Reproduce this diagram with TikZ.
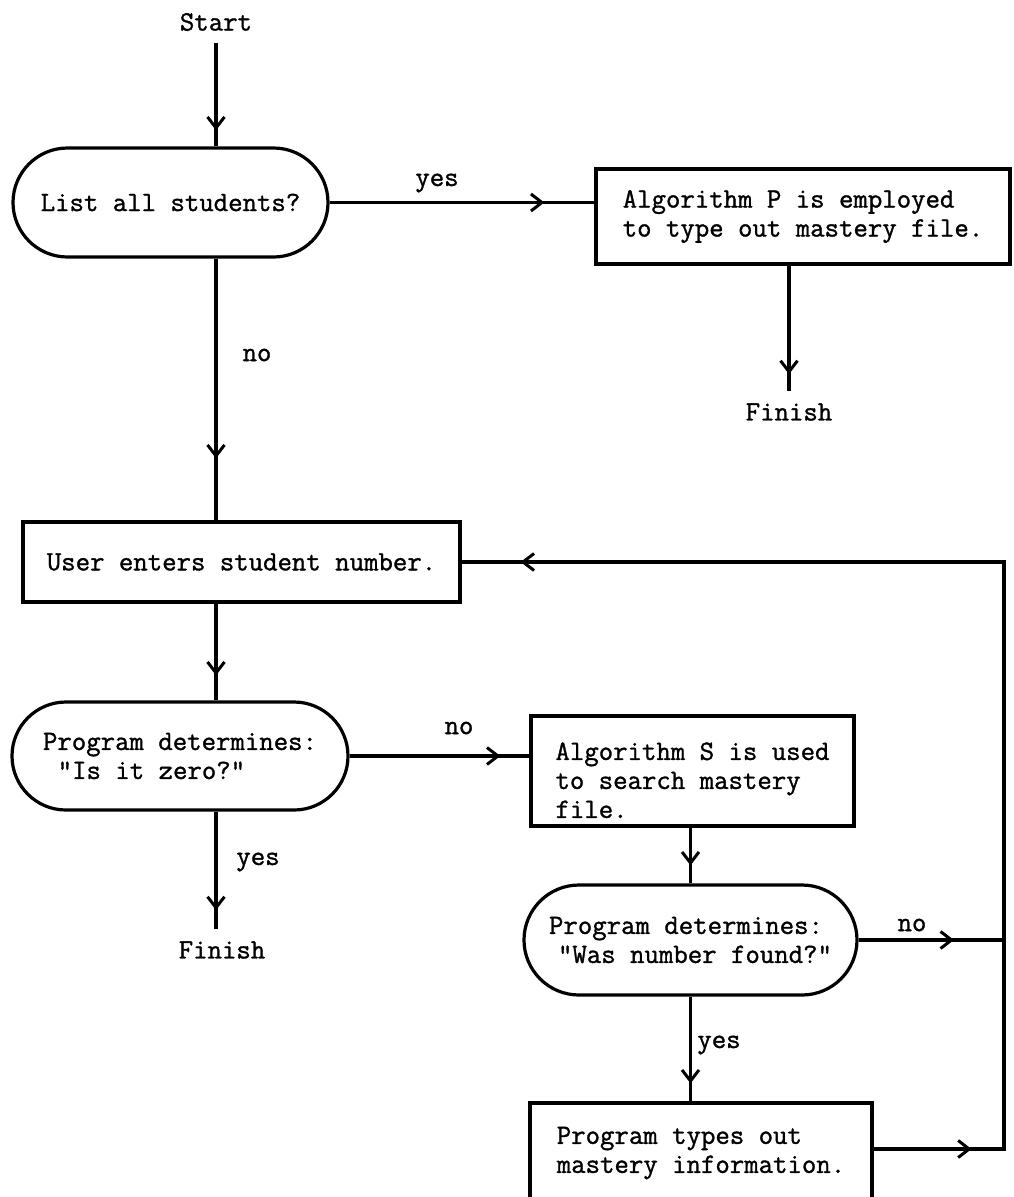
\documentclass[tikz,border=0pt]{standalone}
\usepackage{fontspec}
\newfontfamily\twfont{Latin Modern Mono}[FakeBold=1.2]
\usetikzlibrary{arrows.meta,shapes.misc,decorations.markings}
\begin{document}
\begin{tikzpicture}[x=1pt,y=-1pt,
  every node/.style={font=\twfont\fontsize{28}{29}\selectfont},
  conn/.style={line width=3.2pt},
  tipat/.style={postaction={decorate},decoration={markings,mark=at position #1 with {\arrow{Straight Barb[length=11pt,width=17pt,line width=3pt]}}}},
  looptips/.style={postaction={decorate},decoration={markings,
      mark=at position 98pt with {\arrow{Straight Barb[length=11pt,width=17pt,line width=3pt]}},
      mark=at position -59pt with {\arrow{Straight Barb[length=11pt,width=17pt,line width=3pt]}}}},
  boxnode/.style={draw,line width=3.2pt,rectangle,align=left,inner sep=0pt},
  stad/.style={draw,line width=3.2pt,rounded rectangle,align=left,inner sep=0pt},
  lbl/.style={inner xsep=0pt,inner ysep=12pt}]
\useasboundingbox (0,0) rectangle (1013,1197);
\clip (0,0) rectangle (1013,1197);

% nodes
\node[lbl] (start) at (216,22) {Start};
\node[stad,minimum width=315pt,minimum height=109pt] (s1) at (170.5,202.5) {List all students?};
\node[boxnode,minimum width=414pt,minimum height=95pt] (pbox) at (803,216.5) {Algorithm P is employed\\to type out mastery file.};
\node[lbl] (fin1) at (789,412) {Finish};
\node[boxnode,minimum width=437pt,minimum height=80pt] (user) at (241.5,562) {User enters student number.};
\node[stad,minimum width=336pt,minimum height=108pt] (s2) at (180,756) {Program determines:\\\hspace*{0.525em}"Is it zero?"};
\node[lbl] (fin2) at (222,950) {Finish};
\node[boxnode,minimum width=323pt,minimum height=110pt] (sbox) at (692.5,771) {\rule{0pt}{36pt}Algorithm S is used\\to search mastery\\file.};
\node[stad,minimum width=333pt,minimum height=110pt] (s3) at (690.5,940) {Program determines:\\\hspace*{9pt}"Was number found?"};
\node[boxnode,minimum width=342pt,minimum height=100pt] (bot) at (701,1153) {Program types out\\mastery information.};

% labels
\node[lbl] (yes1) at (437,183) {yes};
\node[lbl] (no1) at (257,355) {no};
\node[lbl] (no2) at (459,728) {no};
\node[lbl] (yes2) at (258,862) {yes};
\node[lbl] (no3) at (912,925) {no};
\node[lbl] (yes3) at (719,1045) {yes};

% loop coordinates
\coordinate (cBR) at (1004,1149);
\coordinate (cTR) at (cBR |- user.east);

% connectors
\draw[conn,tipat=-16pt] (start.south) -- (start.south |- s1.north);
\draw[conn,tipat=-50pt] (s1.east) -- (pbox.west |- s1.east);
\draw[conn,tipat=-17pt] (fin1.north |- pbox.south) -- (fin1.north);
\draw[conn,tipat=-62pt] (start.south |- s1.south) -- (start.south |- user.north);
\draw[conn,tipat=-25pt] (start.south |- user.south) -- (start.south |- s2.north);
\draw[conn,tipat=-19pt] (start.south |- s2.south) -- (start.south |- fin2.north);
\draw[conn,tipat=-29pt] (s2.east) -- (sbox.west |- s2.east);
\draw[conn,tipat=-18pt] (s3.north |- sbox.south) -- (s3.north);
\draw[conn,tipat=-50pt] (s3.east) -- (s3.east -| cBR);
\draw[conn,tipat=-18pt] (s3.south) -- (s3.south |- bot.north);
\draw[conn,looptips] (bot.east |- cBR) -- (cBR) -- (cTR) -- (user.east);
\end{tikzpicture}
\end{document}
